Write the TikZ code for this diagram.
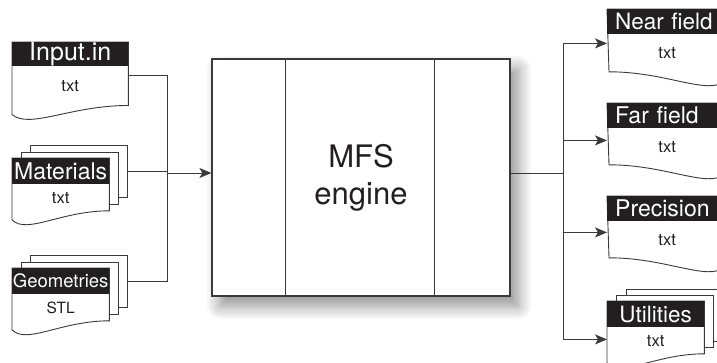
\documentclass[tikz,border=0pt]{standalone}
\usepackage{fontspec}
\setmainfont{TeX Gyre Heros}
\usetikzlibrary{positioning, arrows.meta, calc, shadows.blur, backgrounds}
\definecolor{inkblack}{HTML}{231F20}
\definecolor{wiregray}{HTML}{3A3A3A}
\newcommand{\ldoc}[2]{\draw[sheet] (#1.north west) -- (#1.north east) -- (#2.south east)
  .. controls ($(#2.south east)!0.5!(#2.south west)$) and ($(#2.south west)!0.15!(#2.south east)+(0,24)$)
  .. ($(#2.south west)+(0,9)$) -- cycle;}
\newcommand{\rdoc}[2]{\draw[sheet] (#1.north west) -- (#1.north east) -- ($(#2.south east)+(0,9)$)
  .. controls ($(#2.south east)!0.15!(#2.south west)+(0,24)$) and ($(#2.south west)!0.5!(#2.south east)$)
  .. (#2.south west) -- cycle;}
\begin{document}
\begin{tikzpicture}[x=1pt, y=-1pt,
  >={Stealth[length=12pt, width=10pt, inset=3pt]},
  hdr/.style ={fill=inkblack, text=white, anchor=north west, inner sep=0pt, font=\fontsize{23}{23}\selectfont},
  hdrR/.style={hdr, text width=104pt, inner xsep=8pt, align=left},
  body/.style={inner sep=0pt, text=inkblack, font=\fontsize{16.5}{16.5}\selectfont},
  sheet/.style={draw=wiregray, fill=white, line width=0.9pt},
  wire/.style={draw=wiregray, line width=0.9pt},
  engine/.style={draw=wiregray, fill=white, line width=1.2pt, minimum width=298pt, minimum height=237pt, align=center, text=inkblack,
    font=\fontsize{31}{37}\selectfont, blur shadow={shadow xshift=8pt, shadow yshift=-10pt, shadow blur radius=14pt, shadow blur steps=12, shadow opacity=45}}]
\useasboundingbox (0,0) rectangle (717,362);
\node[hdr, minimum width=116pt, minimum height=22pt, font=\fontsize{25}{25}\selectfont] (inh) at (12,42) {Input.in};
\node[body, below=0pt of inh, minimum width=116pt, minimum height=39pt] (inb) {txt};
\node[hdr, minimum width=97pt, minimum height=26pt] (math) at (12,158) {Materials};
\node[body, below=0pt of math, minimum width=97pt, minimum height=26pt] (matb) {txt};
\node[hdr, minimum width=97pt, minimum height=26pt, font=\fontsize{18.5}{18.5}\selectfont] (geoh) at (12,268) {Geometries};
\node[body, below=0pt of geoh, minimum width=97pt, minimum height=26pt, font=\fontsize{15.5}{15.5}\selectfont] (geob) {STL};
\node[engine] (mfs) at (361,177.5) {MFS\\engine};
\node[hdrR, minimum height=25pt, font=\fontsize{22.5}{22.5}\selectfont] (nfh) at (607,9) {Near field};
\node[body, below=0pt of nfh, minimum width=116pt, minimum height=37pt] (nfb) {txt};
\node[hdrR, minimum height=25pt] (ffh) at (607,103) {Far field};
\node[body, below=0pt of ffh, minimum width=116pt, minimum height=36pt] (ffb) {txt};
\node[hdrR, minimum height=25pt] (prh) at (607,196) {Precision};
\node[body, below=0pt of prh, minimum width=116pt, minimum height=36pt] (prb) {txt};
\node[hdr, minimum width=97pt, minimum height=26pt, font=\fontsize{22.5}{22.5}\selectfont] (uth) at (607,301) {Utilities};
\node[body, below=0pt of uth, minimum width=97pt, minimum height=26pt] (utb) {txt};
\begin{scope}[on background layer, every node/.style={sheet, anchor=north west, minimum width=97pt, minimum height=52pt}]
  \ldoc{inh}{inb}
  \node (mat3) at ($(math.north west)+(18,-13)$) {};
  \node (mat2) at ($(math.north west)+(9,-6.5)$) {};
  \ldoc{math}{matb}
  \node (geo3) at ($(geoh.north west)+(18,-13)$) {};
  \node (geo2) at ($(geoh.north west)+(9,-6.5)$) {};
  \ldoc{geoh}{geob}
  \rdoc{nfh}{nfb} \rdoc{ffh}{ffb} \rdoc{prh}{prb}
  \node (ut3) at ($(uth.north west)+(19,-12)$) {};
  \node (ut2) at ($(uth.north west)+(9,-6)$) {};
  \ldoc{uth}{utb}
\end{scope}
\draw[wire] ($(mfs.north west)+(74,0)$) -- ($(mfs.south west)+(74,0)$);
\draw[wire] ($(mfs.north west)+(223,0)$) -- ($(mfs.south west)+(223,0)$);
\coordinate (busL) at (167,173);
\coordinate (busR) at (563,173);
\draw[wire] ([yshift=-9pt]inh.south east) -| (busL); \draw[wire] (mat3.east) -- (mat3.east -| busL); \draw[wire] (geo3.east) -| (busL);
\draw[wire, ->] (busL) -- (busL -| mfs.west);
\draw[wire] (busR -| mfs.east) -- (busR);
\draw[wire, ->] (busR) |- ([yshift=-9pt]nfh.south west); \draw[wire, ->] (busR) |- ([yshift=-12pt]ffh.south west);
\draw[wire, ->] (busR) |- ([yshift=-11pt]prh.south west); \draw[wire, ->] (busR) |- ([yshift=-12pt]uth.south west);
\end{tikzpicture}
\end{document}
